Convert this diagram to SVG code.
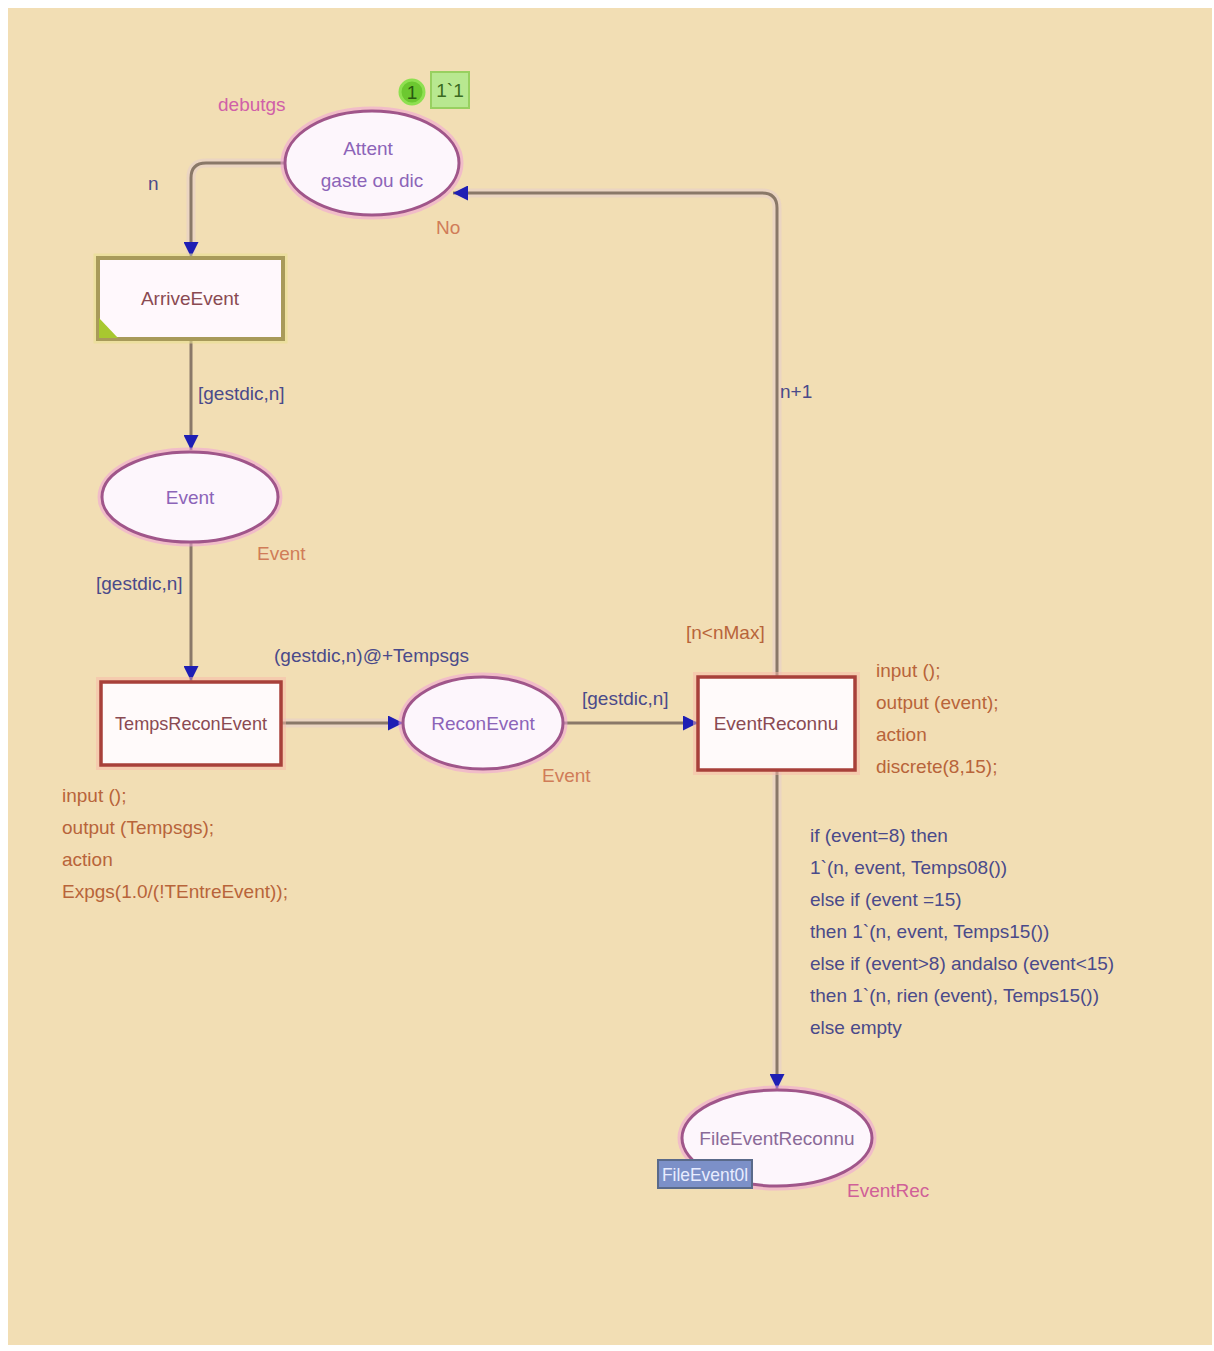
<svg xmlns="http://www.w3.org/2000/svg" width="1214" height="1351" viewBox="0 0 1214 1351">
  <style>
    text { font-family: "Liberation Sans", Arial, sans-serif; font-size: 19px; }
    .place { fill: #fdf6fc; stroke: #a0568a; stroke-width: 3; }
    .glow { fill: none; stroke: #f0a0d8; stroke-width: 9; opacity: 0.55; }
    .trans { fill: #fffafa; stroke: #a8403a; stroke-width: 3.5; }
    .tglow { fill: none; stroke: #f8b8a8; stroke-width: 10; opacity: 0.5; }
    .pname { fill: #8c64b8; text-anchor: middle; }
    .tname { fill: #8a4a52; text-anchor: middle; }
    .ptype { fill: #d07c58; }
    .code { fill: #b8643a; }
    .alabel { fill: #4a4a8a; }
    .arc { fill: none; stroke: #8a7868; stroke-width: 3; }
    .arcw { fill: none; stroke: #e8d2c8; stroke-width: 9; opacity: 0.7; }
  </style>
  <defs>
    <marker id="arrow" viewBox="0 0 10 10" refX="10" refY="5" markerWidth="5" markerHeight="5" orient="auto-start-reverse" markerUnits="strokeWidth">
      <path d="M0,0 L10,5 L0,10 z" fill="#1e1eb4"/>
    </marker>
  </defs>

  <!-- canvas -->
  <rect x="0" y="0" width="1214" height="1351" fill="#ffffff"/>
  <rect x="8" y="8" width="1204" height="1337" fill="#f2deb4"/>

  <!-- connectors -->
  <g id="arcs">
    <!-- Attent -> ArriveEvent -->
    <path class="arcw" d="M285,163 H206 Q191,163 191,178 V258"/>
    <path class="arc" d="M285,163 H206 Q191,163 191,178 V257" marker-end="url(#arrow)"/>
    <text class="alabel" x="148" y="190">n</text>
    <!-- ArriveEvent -> Event -->
    <path class="arc" d="M191,340 V450" marker-end="url(#arrow)"/>
    <text class="alabel" x="198" y="400">[gestdic,n]</text>
    <!-- Event -> TempsReconEvent -->
    <path class="arc" d="M191,543 V681" marker-end="url(#arrow)"/>
    <text class="alabel" x="96" y="590">[gestdic,n]</text>
    <!-- TempsReconEvent -> ReconEvent -->
    <path class="arcw" d="M282,723 H402"/>
    <path class="arc" d="M282,723 H403" marker-end="url(#arrow)"/>
    <text class="alabel" x="274" y="662">(gestdic,n)@+Tempsgs</text>
    <!-- ReconEvent -> EventReconnu -->
    <path class="arc" d="M563,723 H698" marker-end="url(#arrow)"/>
    <text class="alabel" x="582" y="705">[gestdic,n]</text>
    <!-- EventReconnu -> Attent -->
    <path class="arcw" d="M777,677 V208 Q777,193 762,193 H455"/>
    <path class="arc" d="M777,677 V208 Q777,193 762,193 H453" marker-end="url(#arrow)"/>
    <text class="alabel" x="780" y="398">n+1</text>
    <!-- EventReconnu -> FileEventReconnu -->
    <path class="arcw" d="M777,771 V1088"/>
    <path class="arc" d="M777,771 V1089" marker-end="url(#arrow)"/>
    <text class="alabel" x="810" y="842">if (event=8) then</text>
    <text class="alabel" x="810" y="874">1`(n, event, Temps08())</text>
    <text class="alabel" x="810" y="906">else if (event =15)</text>
    <text class="alabel" x="810" y="938">then 1`(n, event, Temps15())</text>
    <text class="alabel" x="810" y="970">else if (event&gt;8) andalso (event&lt;15)</text>
    <text class="alabel" x="810" y="1002">then  1`(n, rien (event), Temps15())</text>
    <text class="alabel" x="810" y="1034">else empty</text>
  </g>

  <!-- place: Attent gaste ou dic -->
  <g id="attent">
    <ellipse class="glow" cx="372" cy="163" rx="87" ry="52"/>
    <ellipse class="place" cx="372" cy="163" rx="87" ry="52"/>
    <text class="pname" x="368" y="155">Attent</text>
    <text class="pname" x="372" y="187">gaste ou dic</text>
    <text x="218" y="111" style="fill:#d060a8">debutgs</text>
    <text class="ptype" x="436" y="234">No</text>
    <circle cx="412" cy="92" r="12" fill="#6cc830" stroke="#8ee050" stroke-width="3"/>
    <text x="412" y="99" text-anchor="middle" fill="#2a5a10" font-size="17">1</text>
    <rect x="431" y="72" width="38" height="36" fill="#b8e890" stroke="#98d060" stroke-width="2"/>
    <text x="450" y="97" text-anchor="middle" fill="#3a6a20">1`1</text>
  </g>

  <!-- transition: ArriveEvent -->
  <g id="arriveevent">
    <rect x="98" y="258" width="185" height="81" fill="none" stroke="#e8e090" stroke-width="9" opacity="0.6"/>
    <rect x="98" y="258" width="185" height="81" fill="#fff8fc" stroke="#a89a5a" stroke-width="4"/>
    <path d="M99,318 L118,338 H99 z" fill="#a8c830"/>
    <text class="tname" x="190" y="305">ArriveEvent</text>
  </g>

  <!-- place: Event -->
  <g id="event">
    <ellipse class="glow" cx="190" cy="497" rx="88" ry="45"/>
    <ellipse class="place" cx="190" cy="497" rx="88" ry="45"/>
    <text class="pname" x="190" y="504">Event</text>
    <text class="ptype" x="257" y="560">Event</text>
  </g>

  <!-- transition: TempsReconEvent -->
  <g id="tempsreconevent">
    <rect class="tglow" x="101" y="682" width="180" height="83"/>
    <rect class="trans" x="101" y="682" width="180" height="83"/>
    <text class="tname" x="191" y="730" textLength="152" lengthAdjust="spacingAndGlyphs">TempsReconEvent</text>
    <text class="code" x="62" y="802">input ();</text>
    <text class="code" x="62" y="834">output (Tempsgs);</text>
    <text class="code" x="62" y="866">action</text>
    <text class="code" x="62" y="898">Expgs(1.0/(!TEntreEvent));</text>
  </g>

  <!-- place: ReconEvent -->
  <g id="reconevent">
    <ellipse class="glow" cx="483" cy="723" rx="80" ry="46"/>
    <ellipse class="place" cx="483" cy="723" rx="80" ry="46"/>
    <text class="pname" x="483" y="730">ReconEvent</text>
    <text class="ptype" x="542" y="782">Event</text>
  </g>

  <!-- transition: EventReconnu -->
  <g id="eventreconnu">
    <rect class="tglow" x="698" y="677" width="157" height="93"/>
    <rect class="trans" x="698" y="677" width="157" height="93"/>
    <text class="tname" x="776" y="730">EventReconnu</text>
    <text class="code" x="686" y="639">[n&lt;nMax]</text>
    <text class="code" x="876" y="677">input ();</text>
    <text class="code" x="876" y="709">output (event);</text>
    <text class="code" x="876" y="741">action</text>
    <text class="code" x="876" y="773">discrete(8,15);</text>
  </g>

  <!-- place: FileEventReconnu -->
  <g id="fileeventreconnu">
    <ellipse class="glow" cx="777" cy="1138" rx="95" ry="48"/>
    <ellipse class="place" cx="777" cy="1138" rx="95" ry="48"/>
    <text class="pname" x="777" y="1145" style="fill:#8a6a98">FileEventReconnu</text>
    <text x="847" y="1197" style="fill:#d06098">EventRec</text>
    <rect x="658" y="1160" width="94" height="28" fill="#7c90c8" stroke="#5a6a8a" stroke-width="2"/>
    <text x="662" y="1181" fill="#e8ecff" font-size="18" textLength="86" lengthAdjust="spacingAndGlyphs">FileEvent0l</text>
  </g>
</svg>
